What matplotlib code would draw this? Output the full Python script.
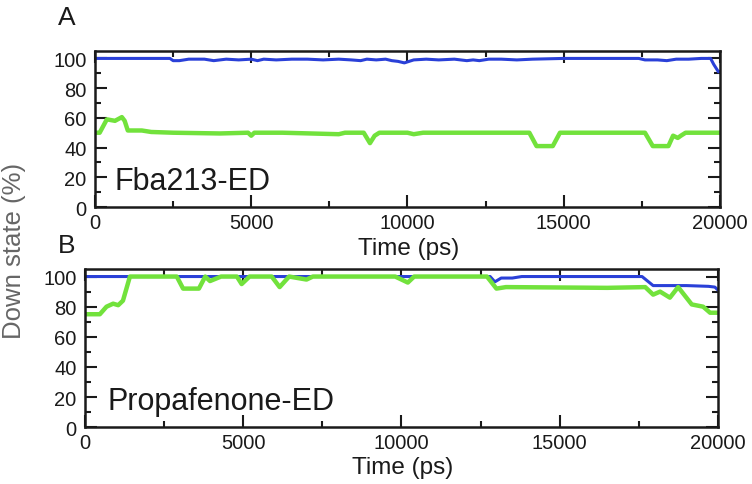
import numpy as np
import matplotlib.pyplot as plt
from matplotlib.ticker import MultipleLocator

plt.rcParams['font.family'] = ['Liberation Sans', 'DejaVu Sans']

# Panel A (Fba213-ED)
a_blue_t = [0, 2400, 2500, 2700, 3000, 3500, 3800, 4200, 4600, 5000, 5200, 5400, 5800, 6300, 6800,
            7300, 7800, 8200, 8500, 8700, 9000, 9300, 9500, 9700, 9900, 10200, 10600, 11000, 11500,
            11900, 12100, 12300, 12600, 13000, 13500, 14000, 15000, 16000, 17400, 17600, 18000,
            18300, 18600, 19000, 19400, 19700, 19800, 19950, 20000]
a_blue_v = [100, 100, 98.5, 98.5, 99.5, 99.5, 98.5, 99.5, 99, 99.5, 98.5, 99.5, 99, 99.5, 99.5,
            99, 99.5, 99, 98.5, 99.5, 99, 99.5, 98.5, 98, 97, 99, 99.5, 99, 99.5,
            98.5, 99, 98.5, 99.5, 99.5, 99, 99.5, 100, 100, 100, 99, 99, 98.5, 99.5, 99.5, 100, 100,
            96, 91, 91]
a_green_t = [0, 150, 380, 640, 860, 950, 1050, 1200, 1500, 1800, 2500, 4000, 4900, 5000, 5100,
             6000, 7800, 8000, 8600, 8800, 8950, 9100, 10000, 10200, 10500, 13900, 14130, 14650,
             14880, 17600, 17850, 18350, 18500, 18650, 18750, 18900, 20000]
a_green_v = [50, 50, 59, 58, 60.5, 58, 51.5, 51.5, 51.5, 50.5, 50, 49.5, 50, 48, 50,
             50, 49, 50, 50, 43, 48, 50, 50, 49, 50, 50, 41, 41,
             50, 50, 41, 41, 48, 46.5, 48, 50, 50]

# Panel B (Propafenone-ED)
b_blue_t = [0, 12800, 12950, 13150, 13500, 13800, 17600, 17950, 19000, 19700, 19900, 20000]
b_blue_v = [100, 100, 96.5, 99, 99, 100, 100, 94, 94, 93.5, 93, 91]
b_green_t = [0, 470, 680, 890, 1050, 1200, 1420, 2900, 3100, 3600, 3800, 3950, 4300, 4800, 4950,
             5200, 5900, 6150, 6450, 7000, 7200, 7600, 9800, 10000, 10200, 10400, 12700, 13000,
             13300, 16500, 17700, 17950, 18170, 18480, 18740, 19170, 19530, 19750, 20000]
b_green_v = [75, 75, 80, 82, 81, 84, 100, 100, 92, 92, 100, 97, 100, 100, 95,
             100, 100, 93, 100, 98, 100, 100, 100, 98, 96, 100, 100, 92,
             93, 92.5, 93, 88, 90, 86, 93, 81.5, 80, 76, 76]

blue = '#2a40d8'
green = '#72e23c'
ink = '#1a1a1a'

fig = plt.figure(figsize=(7.52, 4.85), dpi=100)
ax1 = fig.add_axes([0.1263, 0.5711, 0.8311, 0.3217])
ax2 = fig.add_axes([0.1130, 0.1169, 0.8418, 0.3264])

panels = [(ax1, a_blue_t, a_blue_v, a_green_t, a_green_v, 'Fba213-ED', 0.032, -0.192),
          (ax2, b_blue_t, b_blue_v, b_green_t, b_green_v, 'Propafenone-ED', 0.035, -0.18)]

for ax, bt, bv, gt, gv, name, tx, ly in panels:
    ax.plot(bt, bv, color=blue, lw=2.2)
    ax.plot(gt, gv, color=green, lw=3.2)
    ax.set_xlim(0, 20000)
    ax.set_ylim(0, 105)
    ax.xaxis.set_major_locator(MultipleLocator(5000))
    ax.xaxis.set_minor_locator(MultipleLocator(2500))
    ax.yaxis.set_major_locator(MultipleLocator(20))
    ax.yaxis.set_minor_locator(MultipleLocator(10))
    ax.tick_params(which='both', direction='in', top=True, right=True, labelsize=14.5,
                   width=1.5, colors=ink)
    ax.tick_params(axis='x', pad=4)
    ax.tick_params(axis='y', pad=6)
    ax.tick_params(which='major', length=8.5)
    ax.tick_params(which='minor', length=4.5)
    for s in ax.spines.values():
        s.set_linewidth(1.8)
        s.set_color(ink)
    ax.set_xlabel('Time (ps)', fontsize=17.5, color=ink)
    ax.xaxis.set_label_coords(0.502, ly)
    ax.text(tx, 0.115, name, transform=ax.transAxes, fontsize=22, color=ink, va='baseline')

fig.text(0.077, 0.948, 'A', fontsize=19, va='baseline', color=ink)
fig.text(0.077, 0.478, 'B', fontsize=19, va='baseline', color=ink)
fig.text(0.018, 0.482, 'Down state (%)', fontsize=18.5, rotation=90, va='center', ha='center',
         color='#666666')

fig.savefig('out.png', dpi=100)
